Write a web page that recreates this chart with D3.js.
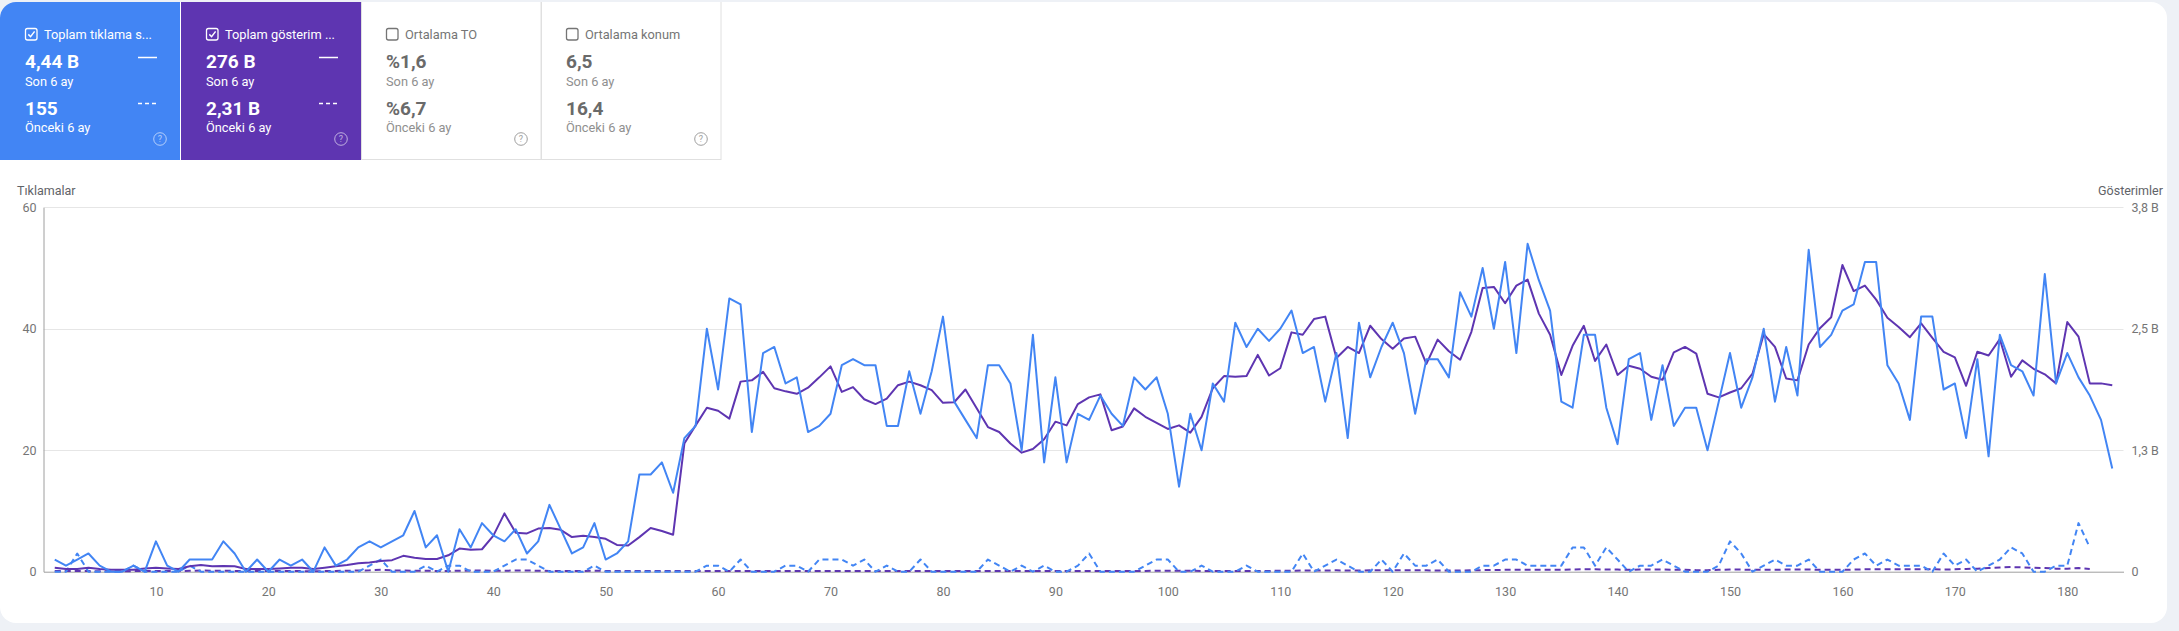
<!DOCTYPE html>
<html>
<head>
<meta charset="utf-8">
<script src="https://cdn.jsdelivr.net/npm/d3@7"></script>
<style>
  html, body { margin: 0; padding: 0; background: #eef1f6; }
  svg { display: block; font-family: Roboto, "Noto Sans", Arial, sans-serif; }
</style>
</head>
<body>
<svg id="chart" width="2179" height="631"></svg>
<script>
// ---------------- DATA ----------------
const cardTitles = ["Toplam tıklama s...", "Toplam gösterim ...", "Ortalama TO", "Ortalama konum"];
const cardChecked = [true, true, false, false];
const cardCurrent = ["4,44 B", "276 B", "%1,6", "6,5"];
const cardPrevious = ["155", "2,31 B", "%6,7", "16,4"];
const periodLabels = ["Son 6 ay", "Önceki 6 ay"];

const leftAxisTitle = "Tıklamalar";
const rightAxisTitle = "Gösterimler";
const leftTicks = [0, 20, 40, 60];
const leftTickLabels = ["0", "20", "40", "60"];
const rightTicks = [0, 1250, 2500, 3750];
const rightTickLabels = ["0", "1,3 B", "2,5 B", "3,8 B"];
const xTicks = [10, 20, 30, 40, 50, 60, 70, 80, 90, 100, 110, 120, 130, 140, 150, 160, 170, 180];

// Clicks, last 6 months (day 1..184)
const clicks = [
  2,1,2,3,1,0,0,1,0,5,
  1,0,2,2,2,5,3,0,2,0,
  2,1,2,0,4,1,2,4,5,4,
  5,6,10,4,6,0,7,4,8,6,
  5,7,3,5,11,7,3,4,8,2,
  3,5,16,16,18,13,22,24,40,30,
  45,44,23,36,37,31,32,23,24,26,
  34,35,34,34,24,24,33,26,33,42,
  28,25,22,34,34,31,20,39,18,32,
  18,26,25,29,26,24,32,30,32,26,
  14,26,20,31,28,41,37,40,38,40,
  43,36,37,28,36,22,41,32,37,41,
  36,26,35,35,32,46,42,50,40,51,
  36,54,48,43,28,27,39,39,27,21,
  35,36,25,34,24,27,27,20,28,36,
  27,32,40,28,37,29,53,37,39,43,
  44,51,51,34,31,25,42,42,30,31,
  22,35,19,39,34,33,29,49,31,36,
  32,29,25,17
];

// Impressions, last 6 months
const impressions = [
  41,28,28,41,28,19,19,19,34,41,
  34,28,56,69,56,59,56,28,28,28,
  34,41,41,28,41,56,69,88,94,109,
  119,163,144,131,131,169,238,225,231,369,
  600,400,394,444,450,431,356,369,356,338,
  275,269,356,450,419,381,1319,1506,1688,1656,
  1575,1956,1969,2056,1888,1856,1831,1894,2000,2113,
  1850,1900,1775,1725,1781,1919,1956,1919,1869,1738,
  1744,1875,1681,1488,1438,1319,1225,1263,1363,1544,
  1506,1725,1794,1825,1456,1494,1681,1594,1531,1469,
  1506,1431,1594,1888,2013,2006,2013,2231,2019,2094,
  2463,2438,2600,2625,2200,2313,2250,2531,2394,2294,
  2400,2419,2138,2388,2269,2181,2469,2919,2931,2763,
  2944,3006,2656,2438,2025,2325,2531,2169,2338,2025,
  2119,2088,2006,1975,2256,2313,2244,1831,1794,1844,
  1888,2038,2444,2313,1988,1969,2338,2506,2619,3156,
  2888,2944,2800,2613,2519,2413,2556,2406,2263,2206,
  1913,2263,2225,2394,2006,2175,2088,2031,1938,2569,
  2419,1938,1938,1919
];

// Clicks, previous 6 months
const prevClicks = [
  0,0,3,0,0,0,0,1,0,0,
  0,0,1,0,0,0,0,0,0,0,
  0,0,0,0,0,0,0,0,1,2,
  0,0,0,1,0,1,1,0,0,0,
  1,2,2,1,0,0,0,0,1,0,
  0,0,0,0,0,0,0,0,1,1,
  0,2,0,0,0,1,1,0,2,2,
  2,1,2,0,1,0,0,2,0,0,
  0,0,0,2,1,0,1,0,1,0,
  0,1,3,0,0,0,0,1,2,2,
  0,0,1,0,0,0,1,0,0,0,
  0,3,0,1,2,1,0,0,2,0,
  3,1,1,2,0,0,0,1,1,2,
  2,1,1,1,1,4,4,1,4,2,
  0,1,1,2,1,0,0,0,1,5,
  3,0,1,2,1,1,2,0,0,0,
  2,3,1,2,1,1,1,0,3,1,
  2,0,1,2,4,3,0,0,1,1,
  8,4
];

// Impressions, previous 6 months
const prevImpressions = [
  6,6,8,6,5,5,5,6,8,8,
  6,6,10,12,10,10,8,6,6,6,
  6,6,6,5,6,8,10,12,14,19,
  14,12,10,10,8,8,10,12,12,10,
  10,12,12,10,8,8,8,8,10,8,
  8,8,6,6,6,6,6,6,8,8,
  8,8,8,6,6,8,8,8,8,8,
  8,8,8,8,8,8,8,8,8,6,
  6,6,6,8,8,8,8,6,6,8,
  8,8,8,6,6,6,6,8,10,10,
  10,10,8,8,8,8,8,8,8,10,
  10,12,12,12,14,12,12,14,16,14,
  14,14,14,12,12,12,14,16,18,19,
  19,19,19,19,19,22,25,25,22,22,
  19,22,22,22,19,19,16,16,19,22,
  22,19,19,19,22,22,22,19,19,19,
  22,25,25,25,25,25,25,25,22,25,
  28,31,38,44,48,45,40,38,31,31,
  38,28
];

// ---------------- DRAWING ----------------
const BLUE = "#4285f4";
const PURPLE = "#5e35b1";
const svg = d3.select("#chart");

// white container
svg.append("defs").append("clipPath").attr("id", "box")
  .append("rect").attr("x", 0).attr("y", 2).attr("width", 2167).attr("height", 621).attr("rx", 16);
svg.append("rect").attr("x", 0).attr("y", 2).attr("width", 2167).attr("height", 621)
  .attr("rx", 16).attr("fill", "#fff");

// ---- cards ----
const cardW = 180, cardTop = 2, cardBottom = 160;
const cards = svg.append("g").attr("clip-path", "url(#box)");
const cardFill = [BLUE, PURPLE, "#fff", "#fff"];
cardTitles.forEach((t, i) => {
  const L = i * cardW + (i > 0 ? 1 : 0);
  const g = cards.append("g").attr("transform", `translate(${L},0)`);
  const dark = i < 2;
  g.append("rect").attr("x", 0).attr("y", cardTop).attr("width", cardW).attr("height", cardBottom - cardTop)
    .attr("fill", cardFill[i]);
  if (!dark) {
    g.append("rect").attr("x", 0.5).attr("y", cardTop - 1).attr("width", cardW - 0.5).attr("height", cardBottom - cardTop + 0.5)
      .attr("fill", "none").attr("stroke", "#e0e0e0").attr("stroke-width", 1);
  }
  const txt = dark ? "#fff" : "#757575";
  const val = dark ? "#fff" : "#6a6a6a";
  const sub = dark ? "#fff" : "#8f8f8f";
  // checkbox
  g.append("rect").attr("x", 25.5).attr("y", 28.5).attr("width", 11.5).attr("height", 11.5).attr("rx", 2)
    .attr("fill", "none").attr("stroke", dark ? "#fff" : "#757575").attr("stroke-width", 1.3);
  if (cardChecked[i]) {
    g.append("path").attr("d", "M28.3,34.4 L30.6,36.7 L34.6,31.4")
      .attr("fill", "none").attr("stroke", "#fff").attr("stroke-width", 1.5);
  }
  g.append("text").attr("x", 44).attr("y", 38.5).attr("font-size", 12.8).attr("fill", txt).text(t);
  g.append("text").attr("x", 25).attr("y", 68).attr("font-size", 19).attr("font-weight", 700).attr("fill", val).text(cardCurrent[i]);
  g.append("text").attr("x", 25).attr("y", 85.5).attr("font-size", 12.8).attr("fill", sub).text(periodLabels[0]);
  g.append("text").attr("x", 25).attr("y", 115).attr("font-size", 19).attr("font-weight", 700).attr("fill", val).text(cardPrevious[i]);
  g.append("text").attr("x", 25).attr("y", 132).attr("font-size", 12.8).attr("fill", sub).text(periodLabels[1]);
  if (dark) {
    g.append("line").attr("x1", 138).attr("x2", 157).attr("y1", 57.5).attr("y2", 57.5)
      .attr("stroke", "#fff").attr("stroke-width", 1.6);
    g.append("line").attr("x1", 138).attr("x2", 157).attr("y1", 103.5).attr("y2", 103.5)
      .attr("stroke", "#fff").attr("stroke-width", 1.6).attr("stroke-dasharray", "4,3");
  }
  const hc = dark ? "rgba(255,255,255,0.6)" : "#9e9e9e";
  g.append("circle").attr("cx", 160).attr("cy", 139).attr("r", 6.3).attr("fill", "none").attr("stroke", hc).attr("stroke-width", 1);
  g.append("text").attr("x", 160).attr("y", 142.3).attr("text-anchor", "middle").attr("font-size", 9)
    .attr("fill", hc).text("?");
});

// ---- chart ----
const plotLeft = 43.5, plotRight = 2123.5, plotTop = 207.3, plotBottom = 571.7;
const x = d3.scaleLinear().domain([0, 185]).range([plotLeft, plotRight]);
const yL = d3.scaleLinear().domain([0, 60]).range([plotBottom, plotTop]);
const yR = d3.scaleLinear().domain([0, 3750]).range([plotBottom, plotTop]);

// gridlines
svg.append("g").selectAll("line").data(leftTicks.slice(1)).join("line")
  .attr("x1", plotLeft).attr("x2", plotRight)
  .attr("y1", d => Math.round(yL(d)) + 0.5).attr("y2", d => Math.round(yL(d)) + 0.5)
  .attr("stroke", "#e6e6e6").attr("stroke-width", 1);

// left axis
const axL = svg.append("g").attr("transform", `translate(${plotLeft},0)`)
  .call(d3.axisLeft(yL).tickValues(leftTicks).tickSize(0).tickPadding(7)
    .tickFormat((d, i) => leftTickLabels[i]));
axL.select(".domain").attr("stroke", "#9e9e9e");
axL.selectAll("text").attr("font-size", 12.5).attr("fill", "#757575").attr("font-family", "Roboto, sans-serif");

// right axis
const axR = svg.append("g").attr("transform", `translate(${plotRight},0)`)
  .call(d3.axisRight(yR).tickValues(rightTicks).tickSize(0).tickPadding(8)
    .tickFormat((d, i) => rightTickLabels[i]));
axR.select(".domain").remove();
axR.selectAll("text").attr("font-size", 12.5).attr("fill", "#757575").attr("font-family", "Roboto, sans-serif");

// bottom axis
const axB = svg.append("g").attr("transform", `translate(0,${plotBottom})`)
  .call(d3.axisBottom(x).tickValues(xTicks).tickSize(0).tickPadding(15).tickFormat(d3.format("d")));
axB.select(".domain").attr("stroke", "#9e9e9e");
axB.selectAll("text").attr("font-size", 12.5).attr("fill", "#757575").attr("font-family", "Roboto, sans-serif");

// axis titles
svg.append("text").attr("x", 17).attr("y", 195).attr("font-size", 12.5).attr("fill", "#5f6368").text(leftAxisTitle);
svg.append("text").attr("x", 2163).attr("y", 195).attr("text-anchor", "end").attr("font-size", 12.5).attr("fill", "#5f6368").text(rightAxisTitle);

// lines
const lineL = d3.line().x((d, i) => x(i + 1)).y(d => yL(d));
const lineR = d3.line().x((d, i) => x(i + 1)).y(d => yR(d));

const lines = svg.append("g").attr("fill", "none").attr("stroke-linejoin", "round");
lines.append("path").datum(prevImpressions).attr("d", lineR)
  .attr("stroke", PURPLE).attr("stroke-width", 2).attr("stroke-dasharray", "6,4");
lines.append("path").datum(prevClicks).attr("d", lineL)
  .attr("stroke", BLUE).attr("stroke-width", 2).attr("stroke-dasharray", "6,4");
lines.append("path").datum(impressions).attr("d", lineR)
  .attr("stroke", PURPLE).attr("stroke-width", 2);
lines.append("path").datum(clicks).attr("d", lineL)
  .attr("stroke", BLUE).attr("stroke-width", 2);
</script>
</body>
</html>
